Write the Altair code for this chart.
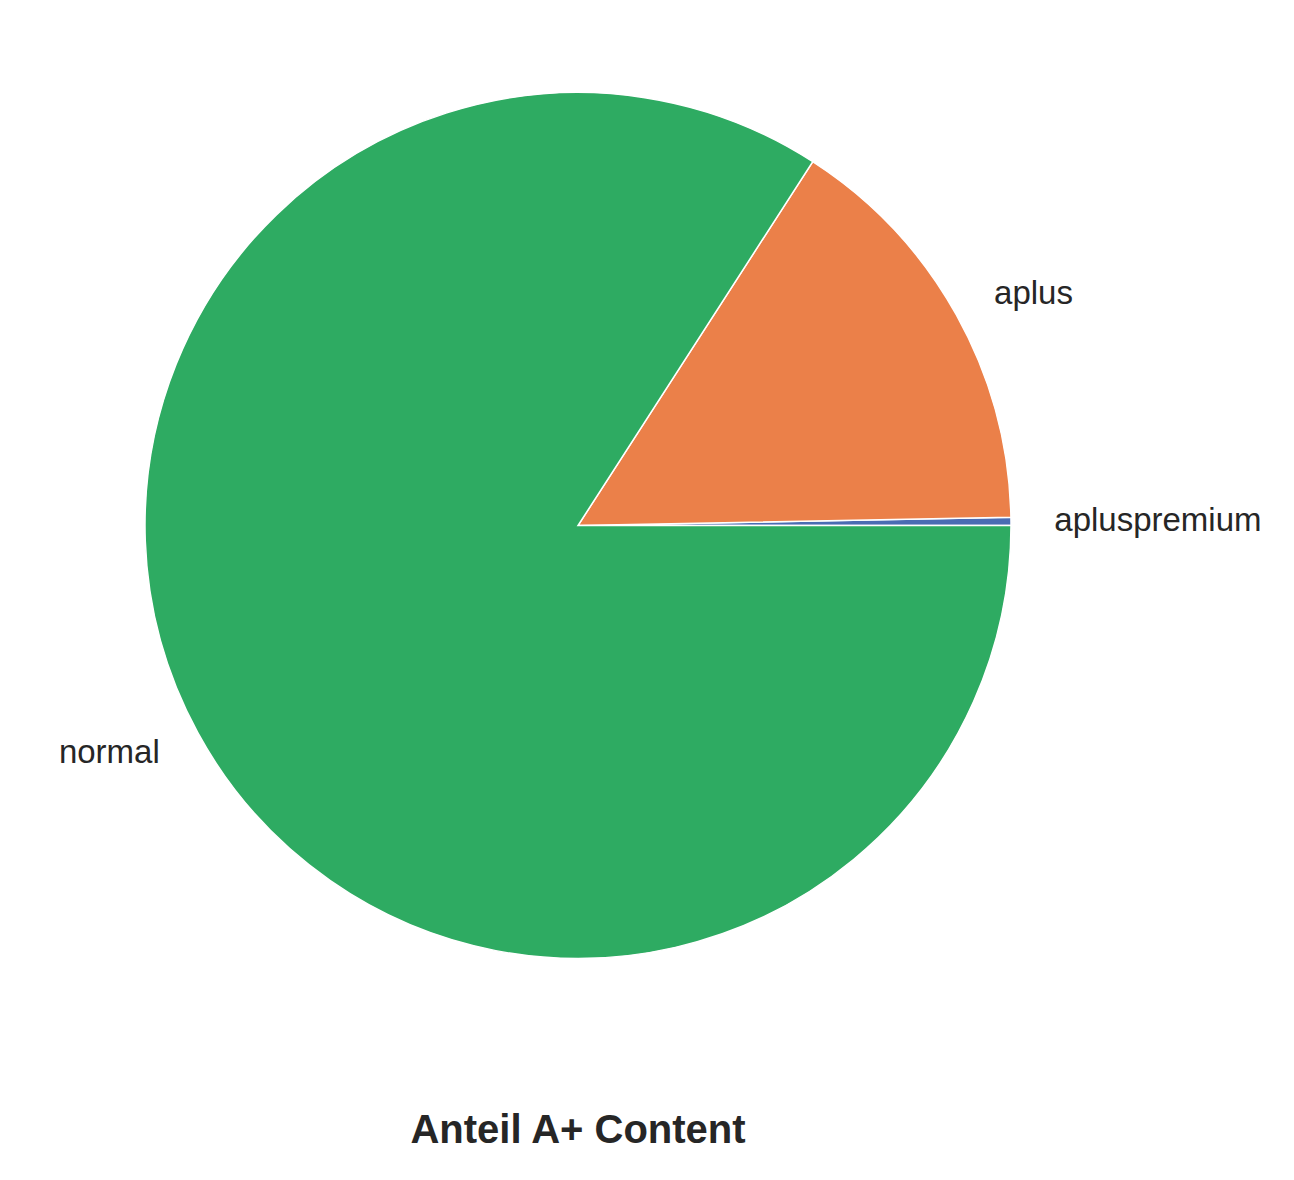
import math
import altair as alt
import pandas as pd

categories = ["apluspremium", "aplus", "normal"]
shares = [0.30, 15.58, 84.12]
colors = ["#4a6cb3", "#eb8049", "#2eab62"]

total = sum(shares)
df = pd.DataFrame({"idx": list(range(len(categories))), "category": categories, "value": shares})

R = 433
theta_scale = alt.Scale(domain=[0, total], range=[2.5 * math.pi, 0.5 * math.pi])

base = alt.Chart(df).transform_window(
    cum="sum(value)", sort=[{"field": "idx"}], frame=[None, 0]
).transform_calculate(
    mid="datum.cum - datum.value / 2",
    ang=f"2 * PI * (datum.cum - datum.value / 2) / {total}"
)

arcs = base.mark_arc(outerRadius=R, stroke="white", strokeWidth=1.5).encode(
    theta=alt.Theta("value:Q", stack=True, scale=theta_scale),
    order=alt.Order("idx:Q", sort="ascending"),
    color=alt.Color("category:N", scale=alt.Scale(domain=categories, range=colors), legend=None),
)

label_props = dict(radius=R * 1.1, fontSize=33, font="Liberation Sans", color="#262626", baseline="middle")

labels_right = base.transform_filter("cos(datum.ang) >= 0").mark_text(align="left", **label_props).encode(
    theta=alt.Theta("mid:Q", stack=None, scale=theta_scale),
    text="category:N",
)
labels_left = base.transform_filter("cos(datum.ang) < 0").mark_text(align="right", **label_props).encode(
    theta=alt.Theta("mid:Q", stack=None, scale=theta_scale),
    text="category:N",
)

chart = alt.layer(arcs, labels_right, labels_left).properties(
    width=1140,
    height=1035,
    autosize="none",
    padding={"left": 0, "top": 0, "right": 120, "bottom": 125},
    title=alt.TitleParams(
        "Anteil A+ Content",
        orient="bottom",
        anchor="middle",
        fontSize=40,
        font="Liberation Sans",
        fontWeight="bold",
        color="#262626",
        baseline="alphabetic",
        offset=100,
    ),
).configure_view(stroke=None)

chart.save("out.html", embed_options={"renderer": "svg", "actions": False})
